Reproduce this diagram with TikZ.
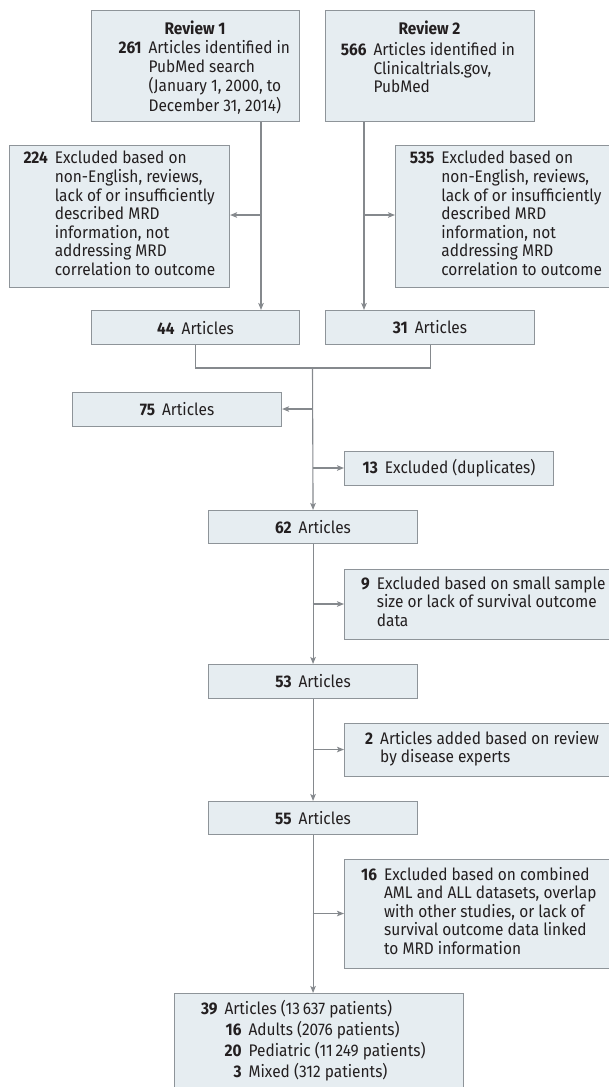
\documentclass[tikz,border=0pt]{standalone}
\usepackage{fontspec}
\setmainfont{Fira Sans}[FakeStretch=0.92]
\usetikzlibrary{arrows.meta,calc}
\definecolor{boxc}{HTML}{E6EDF1}
\definecolor{bordc}{HTML}{8E9499}
\definecolor{linec}{HTML}{85898D}
\definecolor{txtc}{HTML}{231F20}
\tikzset{
  x=1pt, y=-1pt,
  box/.style={draw=bordc, fill=boxc, line width=1.1pt, inner sep=0pt, anchor=north west},
  ln/.style={draw=linec, line width=1.1pt},
  arr/.style={ln, -{Stealth[length=7pt,width=5.5pt,inset=1.5pt]}},
  txt/.style={inner sep=0pt, anchor=west, text=txtc, font=\fontsize{16.8}{18.3}\selectfont},
  hd/.style={inner sep=0pt, text=txtc, font=\fontsize{16.8}{18.3}\selectfont\bfseries},
}
\newcommand{\nb}[1]{\textbf{#1}}
\newcommand{\blk}[2]{\begin{tabular}{@{}r@{\hspace{7pt}}l@{}}#1 & #2\end{tabular}}
\begin{document}
\begin{tikzpicture}
\useasboundingbox (0,0) rectangle (609,1087);
\clip (0,0) rectangle (609,1087);
% boxes
\node[box, minimum width=208pt, minimum height=111pt] (R1) at (91,10) {};
\node[box, minimum width=209pt, minimum height=111pt] (R2) at (325,10) {};
\node[box, minimum width=220pt, minimum height=142pt] (E1) at (9,145) {};
\node[box, minimum width=220pt, minimum height=142pt] (E2) at (395,145) {};
\node[box, minimum width=208pt, minimum height=34pt] (A44) at (91,310) {};
\node[box, minimum width=209pt, minimum height=34pt] (A31) at (325,310) {};
\node[box, minimum width=209pt, minimum height=34pt] (A75) at (72,392) {};
\node[box, minimum width=209pt, minimum height=34pt] (E13) at (344,451) {};
\node[box, minimum width=209pt, minimum height=33pt] (A62) at (208,510) {};
\node[box, minimum width=271pt, minimum height=70pt] (E9) at (344,569) {};
\node[box, minimum width=209pt, minimum height=34pt] (A53) at (208,664) {};
\node[box, minimum width=271pt, minimum height=53pt] (P2) at (344,723) {};
\node[box, minimum width=209pt, minimum height=33pt] (A55) at (208,801) {};
\node[box, minimum width=271pt, minimum height=109pt] (E16) at (344,859) {};
\node[box, minimum width=289pt, minimum height=110pt] (F) at (174,993) {};
% texts
\node[hd] (R1h) at (195,28) {Review 1};
\node[txt] (R1t) at (118.4,79) {\blk{\nb{261}}{Articles identified in\\ & PubMed search\\ & (January 1, 2000, to\\ & December 31, 2014)}};
\node[hd] (R2h) at (429.5,28) {Review 2};
\node[txt, anchor=north west] (R2t) at (340.6,42.5) {\blk{\nb{566}}{Articles identified in\\ & Clinicaltrials.gov,\\ & PubMed}};
\node[txt] (E1t) at (23.3,216) {\blk{\nb{224}}{Excluded based on\\ & non-English, reviews,\\ & lack of or insufficiently\\ & described MRD\\ & information, not\\ & addressing MRD\\ & correlation to outcome}};
\node[txt] (E2t) at (409.7,216) {\blk{\nb{535}}{Excluded based on\\ & non-English, reviews,\\ & lack of or insufficiently\\ & described MRD\\ & information, not\\ & addressing MRD\\ & correlation to outcome}};
\node[txt, anchor=center] (A44t) at (A44.center) {\nb{44}\hspace{7pt}Articles};
\node[txt, anchor=center] (A31t) at (A31.center) {\nb{31}\hspace{7pt}Articles};
\node[txt, anchor=center] (A75t) at (A75.center) {\nb{75}\hspace{7pt}Articles};
\node[txt, anchor=center] (E13t) at (E13.center) {\nb{13}\hspace{7pt}Excluded (duplicates)};
\node[txt, anchor=center] (A62t) at (A62.center) {\nb{62}\hspace{7pt}Articles};
\node[txt] (E9t) at (361,604) {\blk{\nb{9}}{Excluded based on small sample\\ & size or lack of survival outcome\\ & data}};
\node[txt, anchor=center] (A53t) at (A53.center) {\nb{53}\hspace{7pt}Articles};
\node[txt] (P2t) at (365,749.5) {\blk{\nb{2}}{Articles added based on review\\ & by disease experts}};
\node[txt, anchor=center] (A55t) at (A55.center) {\nb{55}\hspace{7pt}Articles};
\node[txt] (E16t) at (361,913.5) {\blk{\nb{16}}{Excluded based on combined\\ & AML and ALL datasets, overlap\\ & with other studies, or lack of\\ & survival outcome data linked\\ & to MRD information}};
\node[txt, font=\fontsize{16.8}{21}\selectfont] (Ft) at (200.8,1042) {\begin{tabular}{@{}r@{\hspace{7pt}}r@{\hspace{7pt}}l@{}}
\nb{39} & \multicolumn{2}{@{}l@{}}{Articles (13\,637 patients)}\\
 & \nb{16} & Adults (2076 patients)\\
 & \nb{20} & Pediatric (11\,249 patients)\\
 & \nb{3} & Mixed (312 patients)
\end{tabular}};
% connectors
\coordinate (j1) at (261,215);
\coordinate (j2) at (364,215);
\draw[arr] (R1.south -| j1) -- (A44.north -| j1);
\draw[arr] (j1) -- (E1.east |- j1);
\draw[arr] (R2.south -| j2) -- (A31.north -| j2);
\draw[arr] (j2) -- (E2.west |- j2);
\coordinate (m) at (312.5,368);
\draw[ln] (A44.south) |- (m) -| (A31.south);
\draw[arr] (m) -- (A62.north);
\coordinate (b75) at (312.5,409);
\coordinate (b13) at (312.5,468);
\draw[arr] (b75) -- (A75.east |- b75);
\draw[arr] (b13) -- (E13.west |- b13);
\draw[arr] (A62.south) -- (A53.north);
\coordinate (b9) at (312.5,604);
\draw[arr] (b9) -- (E9.west |- b9);
\draw[arr] (A53.south) -- (A55.north);
\coordinate (b2) at (312.5,749.5);
\draw[arr] (b2) -- (P2.west |- b2);
\draw[arr] (A55.south) -- (A55.south |- F.north);
\coordinate (b16) at (312.5,913.5);
\draw[arr] (b16) -- (E16.west |- b16);
\end{tikzpicture}
\end{document}
